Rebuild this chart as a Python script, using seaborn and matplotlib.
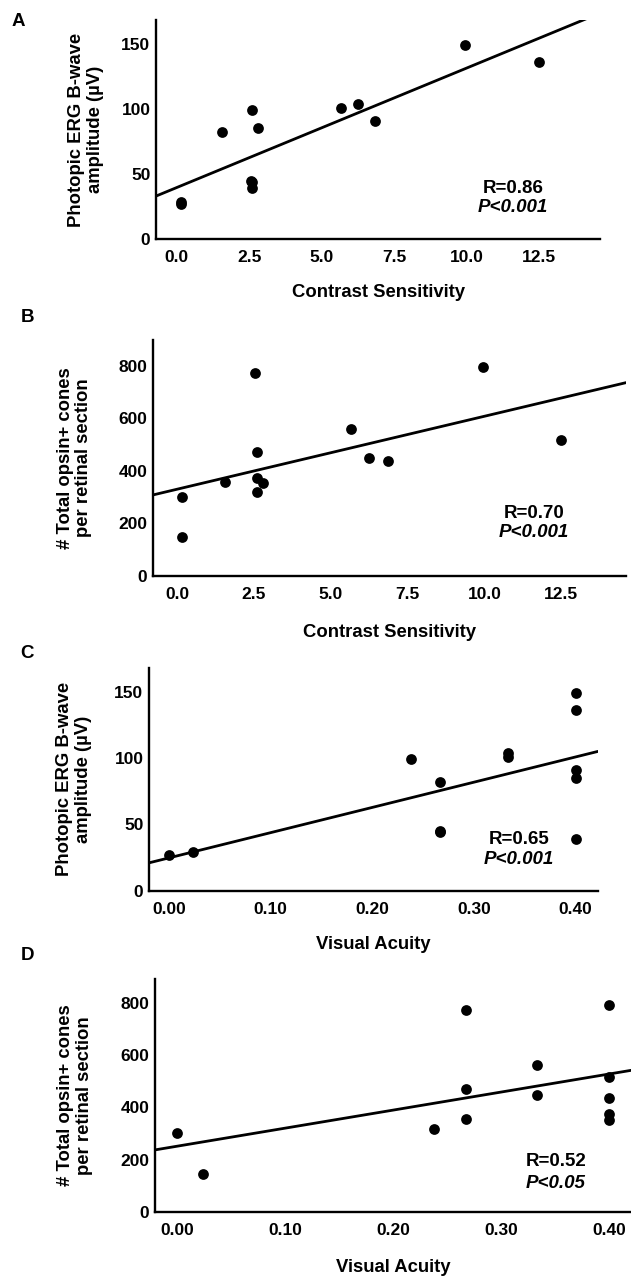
import matplotlib
matplotlib.use("Agg")
import matplotlib.pyplot as plt
import seaborn as sns
import pandas as pd
from matplotlib.ticker import FormatStrFormatter

# ---- data (one entry per subject) ----
contrast_sensitivity = [0.15, 0.15, 1.55, 2.6, 2.8, 2.55, 2.6, 2.6, 5.65, 6.25, 6.85, 9.95, 12.5]
visual_acuity = [0.0, 0.024, 0.267, 0.238, 0.40, 0.267, 0.267, 0.40, 0.333, 0.333, 0.40, 0.40, 0.40]
erg_bwave = [27, 29, 82, 99, 85, 45, 44, 39, 101, 104, 91, 149, 136]
opsin_cones = [300, 146, 356, 318, 352, 774, 472, 373, 561, 449, 436, 794, 518]

panel_letters = ["A", "B", "C", "D"]
stats_r = ["R=0.86", "R=0.70", "R=0.65", "R=0.52"]
stats_p = ["P<0.001", "P<0.001", "P<0.001", "P<0.05"]
x_labels = ["Contrast Sensitivity", "Contrast Sensitivity", "Visual Acuity", "Visual Acuity"]
y_labels = ["Photopic ERG B-wave\namplitude (\u00b5V)", "# Total opsin+ cones\nper retinal section",
            "Photopic ERG B-wave\namplitude (\u00b5V)", "# Total opsin+ cones\nper retinal section"]
cs_ticks = [0.0, 2.5, 5.0, 7.5, 10.0, 12.5]
va_ticks = [0.0, 0.1, 0.2, 0.3, 0.4]
erg_ticks = [0, 50, 100, 150]
cone_ticks = [0, 200, 400, 600, 800]

df = pd.DataFrame({"cs": contrast_sensitivity, "va": visual_acuity,
                   "erg": erg_bwave, "cones": opsin_cones})

sns.set_theme(style="ticks")
plt.rcParams["font.family"] = ["Liberation Sans", "DejaVu Sans"]
plt.rcParams["font.weight"] = "bold"

fig = plt.figure(figsize=(6.31, 12.8), dpi=100)
fig.patch.set_facecolor("white")

layout = [
    dict(rect=[0.2472, 0.8130, 0.7037, 0.1713], x="cs", y="erg", xlim=(-0.72, 14.6), ylim=(0, 168),
         xt=cs_ticks, yt=erg_ticks, fmt="%.1f", rpos=(0.804, 0.233, 0.146), letter=(18, 22), ylc=-0.118),
    dict(rect=[0.2425, 0.5502, 0.7496, 0.1841], x="cs", y="cones", xlim=(-0.78, 14.6), ylim=(0, 898),
         xt=cs_ticks, yt=cone_ticks, fmt="%.1f", rpos=(0.806, 0.266, 0.183), letter=(27, 318), ylc=-0.128),
    dict(rect=[0.2361, 0.3041, 0.7116, 0.1742], x="va", y="erg", xlim=(-0.0197, 0.422), ylim=(0, 168),
         xt=va_ticks, yt=erg_ticks, fmt="%.2f", rpos=(0.824, 0.230, 0.138), letter=(27, 653), ylc=-0.127),
    dict(rect=[0.2456, 0.0534, 0.7544, 0.1816], x="va", y="cones", xlim=(-0.0205, 0.42), ylim=(0, 892),
         xt=va_ticks, yt=cone_ticks, fmt="%.2f", rpos=(0.842, 0.215, 0.119), letter=(27, 955), ylc=-0.130),
]

for i, L in enumerate(layout):
    ax = fig.add_axes(L["rect"])
    ax.set_facecolor("white")
    ax.set_xlim(*L["xlim"])
    ax.set_ylim(*L["ylim"])
    sns.regplot(data=df, x=L["x"], y=L["y"], ax=ax, ci=None, truncate=False,
                color="black", scatter_kws=dict(s=60, color="black", linewidths=0, alpha=1),
                line_kws=dict(color="black", linewidth=2.0))
    ax.set_xlim(*L["xlim"])
    ax.set_ylim(*L["ylim"])
    ax.set_xticks(L["xt"])
    ax.set_yticks(L["yt"])
    ax.xaxis.set_major_formatter(FormatStrFormatter(L["fmt"]))
    ax.tick_params(length=0, labelsize=12.5, colors="black")
    ax.tick_params(axis="x", pad=8)
    ax.tick_params(axis="y", pad=4)
    for lab in ax.get_xticklabels() + ax.get_yticklabels():
        lab.set_fontweight("bold")
    for s in ["top", "right"]:
        ax.spines[s].set_visible(False)
    for s in ["left", "bottom"]:
        ax.spines[s].set_linewidth(1.7)
        ax.spines[s].set_color("black")
    ax.set_xlabel(x_labels[i], fontsize=13.3, fontweight="bold", color="black", va="top")
    ax.xaxis.set_label_coords(0.5, -0.205)
    ax.set_ylabel(y_labels[i], fontsize=13.3, fontweight="bold", color="black", linespacing=1.15)
    ax.yaxis.set_label_coords(L["ylc"], 0.5)
    rx, ry, py = L["rpos"]
    ax.text(rx, ry, stats_r[i], transform=ax.transAxes, ha="center", va="center",
            fontsize=13.5, fontweight="bold", color="black")
    ax.text(rx, py, stats_p[i], transform=ax.transAxes, ha="center", va="center",
            fontsize=13.5, fontweight="bold", fontstyle="italic", color="black")
    lx, ly = L["letter"]
    fig.text(lx / 631, 1 - ly / 1280, panel_letters[i], ha="center", va="center",
             fontsize=13.5, fontweight="bold", color="black")

fig.savefig("out.png", dpi=100, facecolor="white")
